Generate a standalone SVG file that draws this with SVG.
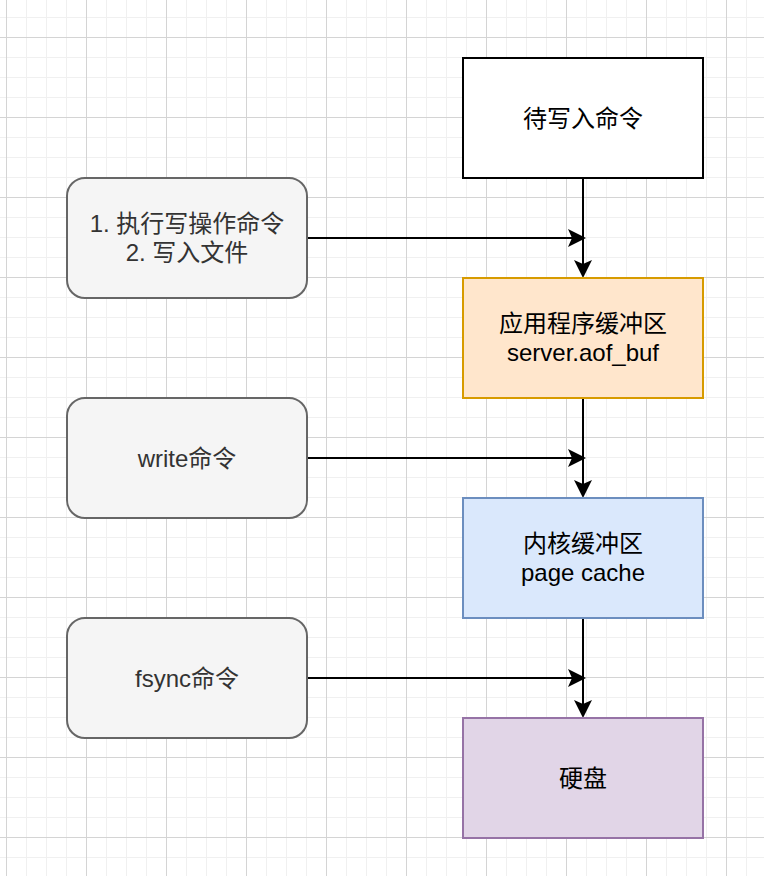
<svg xmlns="http://www.w3.org/2000/svg" width="764" height="876" viewBox="0 0 764 876">
<defs>
<pattern id="minor" x="6" y="17" width="20" height="20" patternUnits="userSpaceOnUse">
<path d="M0.5,0 V20 M0,0.5 H20" stroke="#f0f0f0" stroke-width="1" fill="none"/>
</pattern>
<pattern id="major" x="6" y="37" width="80" height="80" patternUnits="userSpaceOnUse">
<path d="M0.5,0 V80 M0,0.5 H80" stroke="#d4d4d4" stroke-width="1" fill="none"/>
</pattern>
<marker id="arrow" markerUnits="userSpaceOnUse" markerWidth="20" markerHeight="20" refX="0" refY="0" orient="auto" overflow="visible">
<path d="M14,0 L-4,-9 L0,0 L-4,9 Z" fill="#000"/>
</marker>
</defs>
<style>
.t{font-family:"Liberation Sans","Noto Sans CJK SC",sans-serif;font-size:24px;text-anchor:middle;fill:#000}
.g{fill:#333}
.side{fill:#f5f5f5;stroke:#666;stroke-width:2}
.edge{stroke:#000;stroke-width:2;fill:none}
</style>
<rect width="764" height="876" fill="#fff"/>
<rect width="764" height="876" fill="url(#minor)"/>
<rect width="764" height="876" fill="url(#major)"/>

<g id="connectors">
<path class="edge" d="M583,178 V264" marker-end="url(#arrow)"/>
<path class="edge" d="M583,398 V484" marker-end="url(#arrow)"/>
<path class="edge" d="M583,618 V704" marker-end="url(#arrow)"/>
<path class="edge" d="M307,238 H572" marker-end="url(#arrow)"/>
<path class="edge" d="M307,458 H572" marker-end="url(#arrow)"/>
<path class="edge" d="M307,678 H572" marker-end="url(#arrow)"/>
</g>

<g id="n-pending">
<rect x="463" y="58" width="240" height="120" fill="#fff" stroke="#000" stroke-width="2"/>
<text class="t" x="583" y="126.5">待写入命令</text>
</g>
<g id="n-appbuf">
<rect x="463" y="278" width="240" height="120" fill="#ffe6cc" stroke="#d79b00" stroke-width="2"/>
<text class="t" x="583" y="332">应用程序缓冲区</text>
<text class="t" x="583" y="360.8">server.aof_buf</text>
</g>
<g id="n-pagecache">
<rect x="463" y="498" width="240" height="120" fill="#dae8fc" stroke="#6c8ebf" stroke-width="2"/>
<text class="t" x="583" y="552">内核缓冲区</text>
<text class="t" x="583" y="580.8">page cache</text>
</g>
<g id="n-disk">
<rect x="463" y="718" width="240" height="120" fill="#e1d5e7" stroke="#9673a6" stroke-width="2"/>
<text class="t" x="583" y="786.5">硬盘</text>
</g>

<g id="n-cmd">
<rect class="side" x="67" y="178" width="240" height="120" rx="18" ry="18"/>
<text class="t g" x="187" y="232">1. 执行写操作命令</text>
<text class="t g" x="187" y="260.8">2. 写入文件</text>
</g>
<g id="n-write">
<rect class="side" x="67" y="398" width="240" height="120" rx="18" ry="18"/>
<text class="t g" x="187" y="466.5">write命令</text>
</g>
<g id="n-fsync">
<rect class="side" x="67" y="618" width="240" height="120" rx="18" ry="18"/>
<text class="t g" x="187" y="686.5">fsync命令</text>
</g>
</svg>
